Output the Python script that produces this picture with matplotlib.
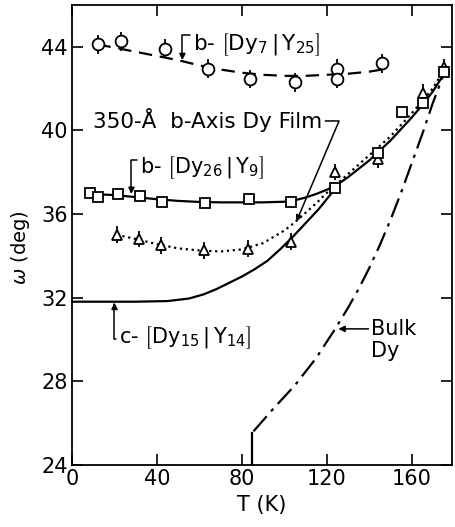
import matplotlib
matplotlib.use("Agg")
import matplotlib.pyplot as plt

plt.rcParams['font.family'] = ['DejaVu Sans']
plt.rcParams['mathtext.fontset'] = 'dejavusans'

# b-[Dy7|Y25] data (circles) and dashed fit
t_dy7 = [12, 23, 44, 64, 84, 105, 125, 125, 146]
w_dy7 = [44.1, 44.25, 43.9, 42.95, 42.45, 42.3, 42.95, 42.45, 43.2]
fit_t_dy7 = [12, 20, 30, 40, 50, 60, 70, 80, 90, 100, 110, 120, 130, 140, 146]
fit_w_dy7 = [44.1, 43.95, 43.75, 43.55, 43.35, 43.1, 42.9, 42.75, 42.65, 42.6, 42.6, 42.65, 42.7, 42.8, 42.9]

# b-[Dy26|Y9] data (squares) and solid fit
t_dy26 = [8.5, 12.3, 21.7, 32, 42.5, 62.7, 83.5, 103.3, 124, 144.3, 155.5, 165.6, 175.5]
w_dy26 = [37.0, 36.8, 36.95, 36.87, 36.55, 36.53, 36.73, 36.55, 37.25, 38.9, 40.85, 41.3, 42.8]
e_dy26 = [0, 0, 0, 0, 0, 0, 0, 0, 0, 0.3, 0, 0, 0]
fit_t_dy26 = [8, 20, 30, 40, 50, 60, 70, 80, 90, 100, 105, 110, 115, 120, 125, 130, 140, 150, 160, 165, 170, 176]
fit_w_dy26 = [36.95, 36.9, 36.8, 36.7, 36.62, 36.57, 36.55, 36.55, 36.55, 36.58, 36.65, 36.78, 36.95, 37.15, 37.4, 37.75, 38.55, 39.5, 40.6, 41.2, 41.85, 42.8]

# 350-A b-axis film (triangles) and dotted fit
t_film = [21, 31.6, 42, 62.3, 83, 103, 124, 144.3, 165.6, 175.5]
w_film = [35.0, 34.8, 34.5, 34.25, 34.33, 34.67, 38.0, 38.6, 41.8, 43.0]
fit_t_film = [21, 30, 40, 50, 60, 70, 80, 90, 100, 105, 110, 115, 120, 125, 130, 140, 150, 160, 170, 176]
fit_w_film = [35.0, 34.8, 34.55, 34.35, 34.25, 34.2, 34.3, 34.6, 35.2, 35.6, 36.05, 36.5, 37.0, 37.45, 37.9, 38.8, 39.7, 40.8, 42.0, 43.0]

# c-[Dy15|Y14] solid curve
t_dy15 = [0, 30, 45, 55, 62, 68, 74, 80, 86, 92, 98, 104, 110, 116, 122, 124]
w_dy15 = [31.8, 31.8, 31.83, 31.95, 32.15, 32.4, 32.7, 33.0, 33.35, 33.75, 34.3, 34.9, 35.55, 36.2, 36.95, 37.25]

# bulk Dy dash-dot curve
t_bulk_step = [85, 85]
w_bulk_step = [24, 25.5]
t_bulk = [85.5, 95, 105, 115, 124, 130, 135, 140, 145, 150, 155, 160, 165, 170, 176]
w_bulk = [25.6, 26.7, 27.8, 29.1, 30.5, 31.5, 32.4, 33.4, 34.5, 35.7, 37.0, 38.4, 39.8, 41.3, 42.9]

fig = plt.figure(figsize=(4.56, 5.27), dpi=100)
ax = fig.add_axes([0.158, 0.118, 0.833, 0.873])

lw = 1.6
ax.plot(fit_t_dy7, fit_w_dy7, color='black', lw=lw, dashes=(6, 3.5))
ax.errorbar(t_dy7, w_dy7, yerr=0.45, fmt='o', mfc='white', mec='black', mew=1.3,
            ms=8.5, ecolor='black', elinewidth=1.3, capsize=0)

ax.plot(fit_t_dy26, fit_w_dy26, color='black', lw=lw)
ax.plot(t_dy15, w_dy15, color='black', lw=lw)
ax.plot(fit_t_film, fit_w_film, color='black', lw=lw, ls=':')
ax.errorbar(t_film, w_film, yerr=0.4, fmt='^', mfc='white', mec='black', mew=1.3,
            ms=7.5, ecolor='black', elinewidth=1.3, capsize=0)
ax.errorbar(t_dy26, w_dy26, yerr=e_dy26, fmt='s', mfc='white', mec='black', mew=1.3,
            ms=7, ecolor='black', elinewidth=1.3, capsize=0)

ax.plot(t_bulk_step, w_bulk_step, color='black', lw=lw)
ax.plot(t_bulk, w_bulk, color='black', lw=lw, dashes=(9, 3, 1.5, 3))

ax.set_xlim(0, 179)
ax.set_ylim(24, 46)
ax.set_xticks([0, 40, 80, 120, 160])
ax.set_yticks([24, 28, 32, 36, 40, 44])
ax.tick_params(direction='in', length=8, width=1.2, labelsize=15,
               top=True, right=True, pad=3)
for s in ax.spines.values():
    s.set_linewidth(1.3)

ax.set_xlabel('T (K)', fontsize=15, labelpad=4)
ax.set_ylabel(r'$\omega$ (deg)', fontsize=14)
ax.yaxis.set_label_coords(-0.105, 0.472)

arr = dict(arrowstyle='-|>', color='black', lw=1.1, mutation_scale=9,
           shrinkA=0, shrinkB=0)

ax.annotate(r'b- $\left[\mathrm{Dy}_{7}\,|\,\mathrm{Y}_{25}\right]$', xy=(52, 43.35),
            xytext=(57, 44.1), fontsize=15.5, va='center', ha='left',
            arrowprops=dict(arr, connectionstyle='angle,angleA=0,angleB=90,rad=0',
                            relpos=(0, 0.85)))
ax.annotate(r'b- $\left[\mathrm{Dy}_{26}\,|\,\mathrm{Y}_{9}\right]$', xy=(28, 36.95),
            xytext=(32, 38.2), fontsize=15, va='center', ha='left',
            arrowprops=dict(arr, connectionstyle='angle,angleA=0,angleB=90,rad=0',
                            relpos=(0, 0.8)))
ax.annotate(r'c- $\left[\mathrm{Dy}_{15}\,|\,\mathrm{Y}_{14}\right]$', xy=(20, 31.75),
            xytext=(22, 30.1), fontsize=15, va='center', ha='left',
            arrowprops=dict(arr, connectionstyle='angle,angleA=0,angleB=90,rad=0',
                            relpos=(0, 0.45)))
ax.annotate('350-Å  b-Axis Dy Film', xy=(105.7, 35.63),
            xytext=(10, 40.5), fontsize=15.5, va='center', ha='left',
            arrowprops=dict(arr, connectionstyle='angle,angleA=0,angleB=67,rad=0',
                            relpos=(1, 0.45)))
ax.annotate('Bulk', xy=(125.5, 30.5), xytext=(141, 30.5), fontsize=15,
            va='center', ha='left',
            arrowprops=dict(arr, relpos=(0, 0.5)))
ax.text(141, 29.45, 'Dy', fontsize=15, va='center', ha='left')

fig.savefig('out.png', dpi=100)
